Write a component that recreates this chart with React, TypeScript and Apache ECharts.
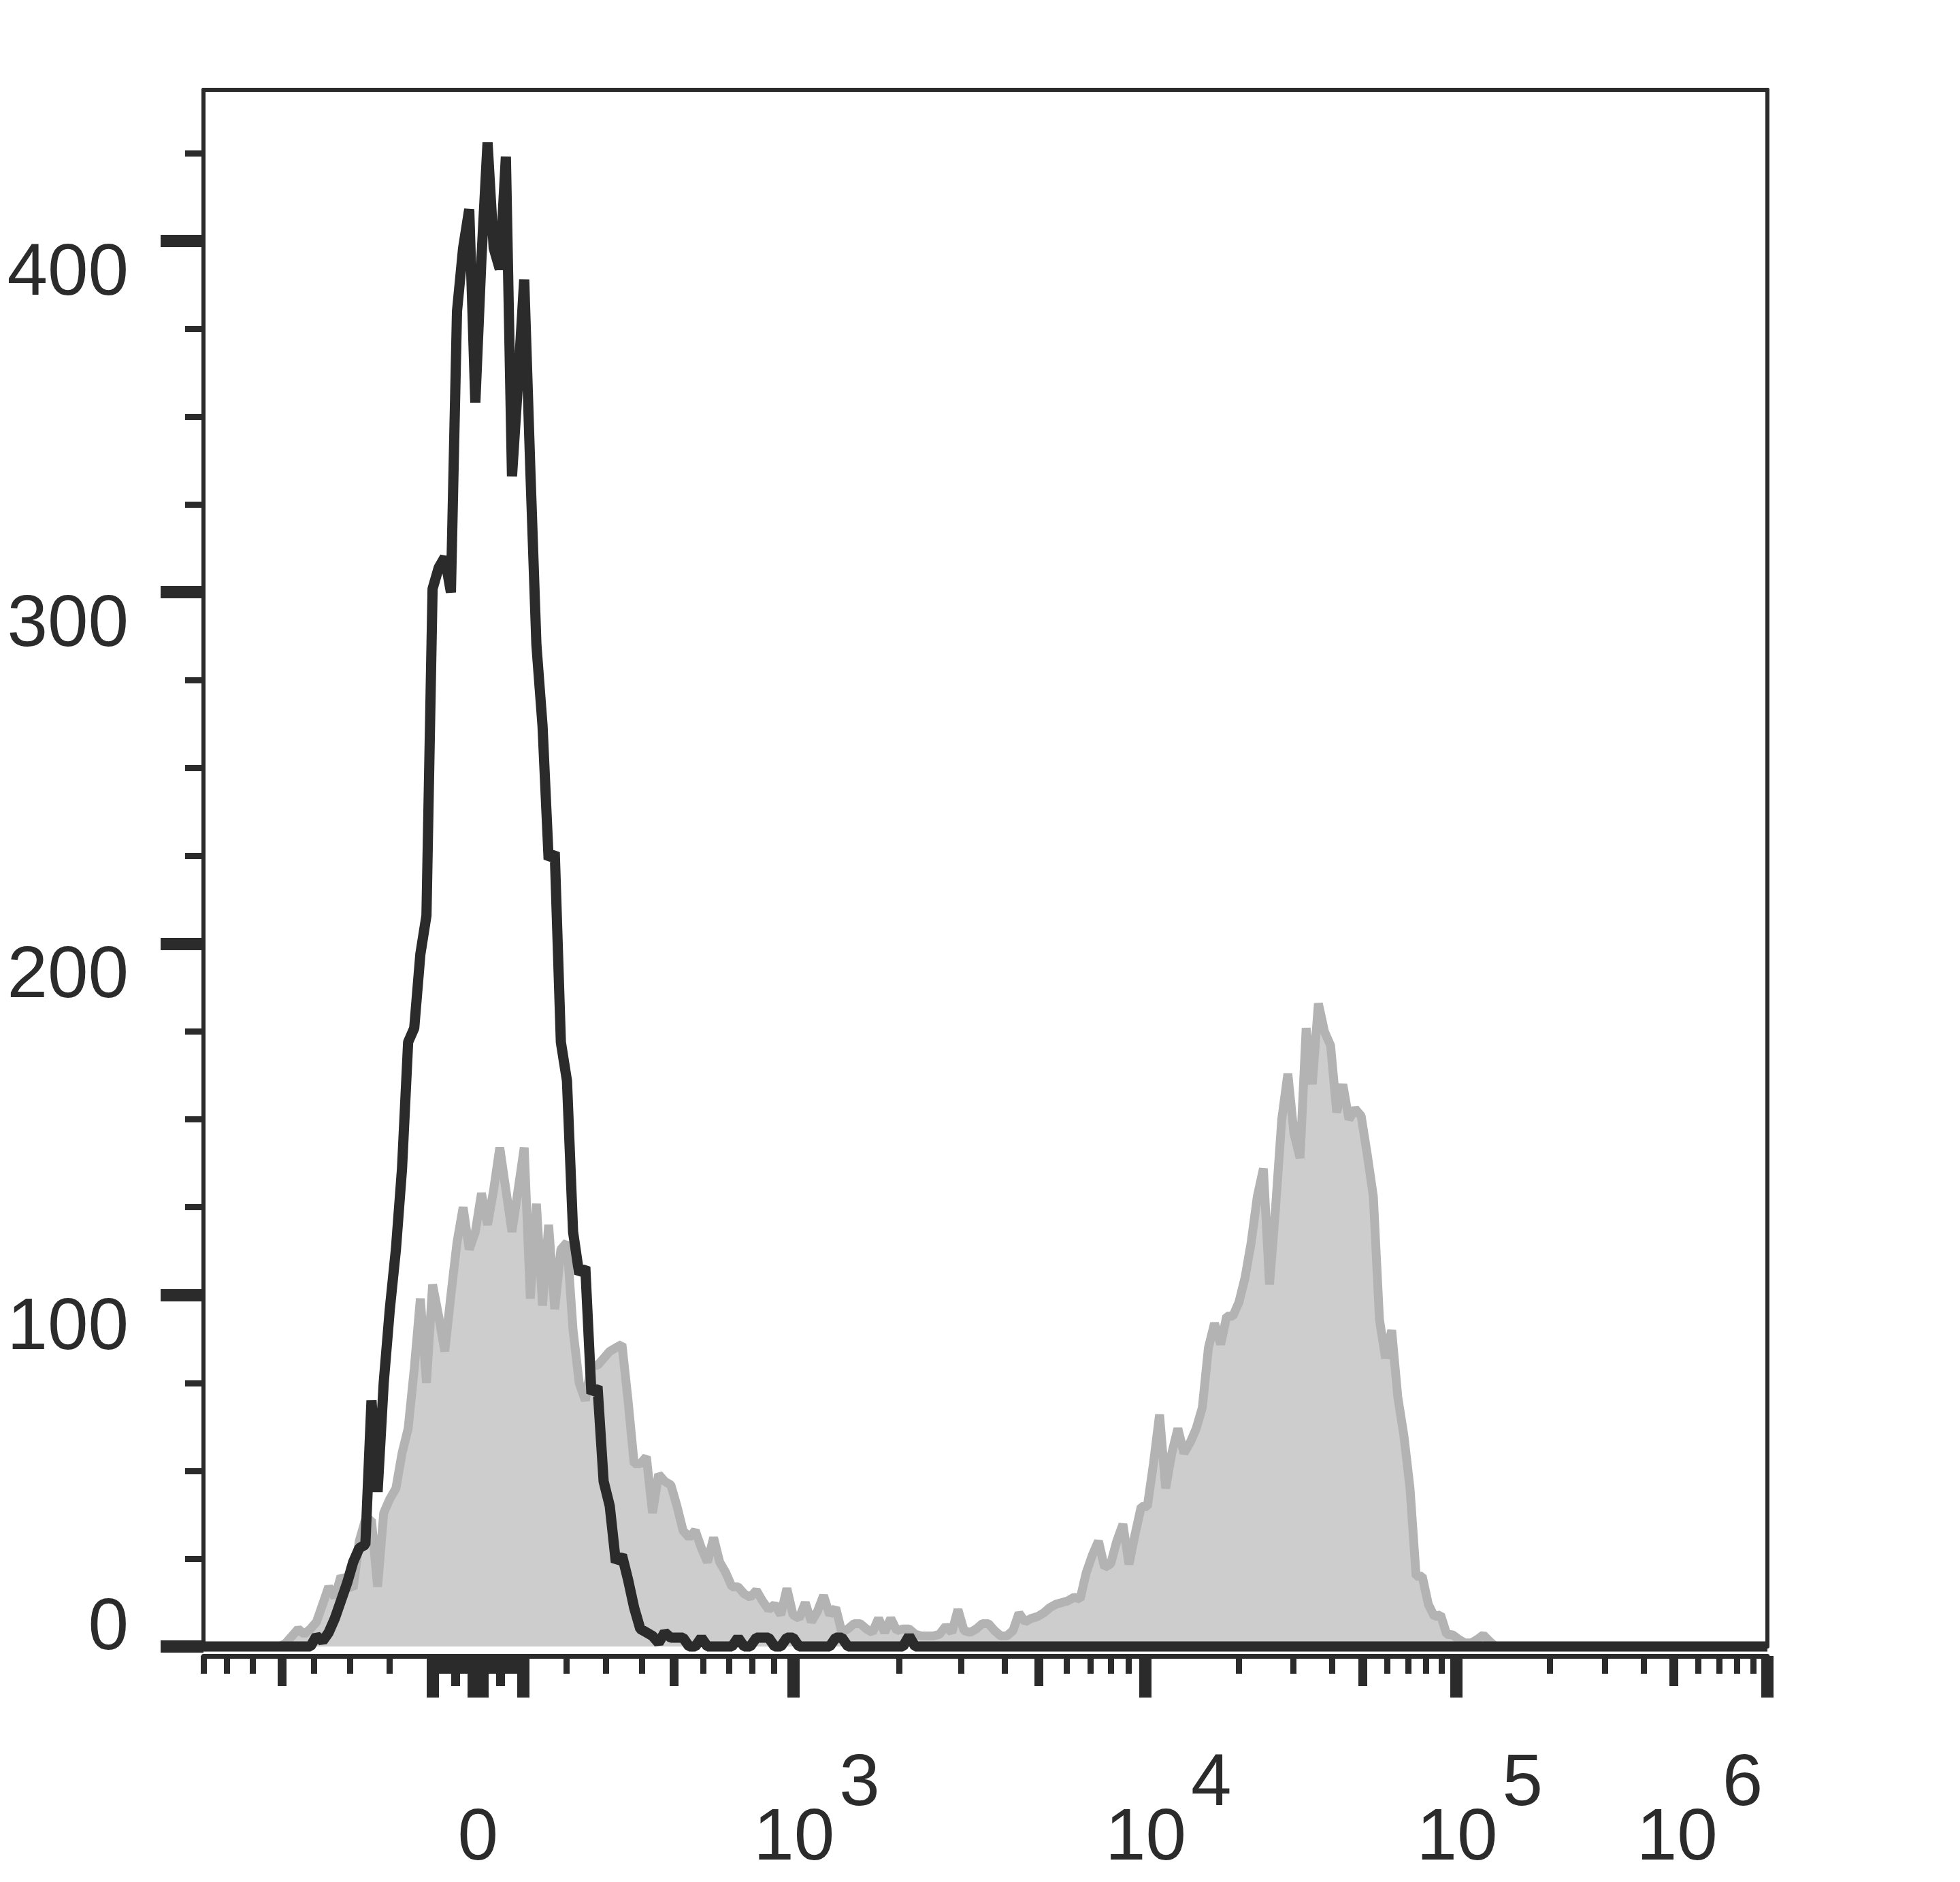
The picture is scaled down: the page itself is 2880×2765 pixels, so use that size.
import React, { useEffect, useRef } from 'react';
import * as echarts from 'echarts';

// ---------- data ----------
const N_BINS = 256;

// isotype control (black line), counts per bin starting at bin BLACK_START
const BLACK_START = 17;
const BLACK_COUNTS = [
  0, 3, 1.5, 4, 8, 13, 18, 24, 28, 29,
  70, 44, 75, 96, 113, 136, 172, 176, 197, 208,
  301, 307, 310, 300, 380, 398, 409, 354, 395, 428,
  398, 392, 424, 333, 360, 389, 335, 285, 262, 224,
  226, 172, 161, 118, 106, 108, 72, 74, 47, 40,
  24, 26, 19, 11, 5, 4, 3, 1, 4, 2.5,
  2.5, 2.5, 0, 0, 2.5, 0, 0, 0, 0, 0,
  2.5, 0, 0, 2.5, 2.5, 2.5, 0, 0, 2.5, 2.5,
  0, 0, 0, 0, 0, 0, 2.5, 2.5, 0, 0,
  0, 0, 0, 0, 0, 0, 0, 0, 3, 0,
];

// stained sample (grey filled), counts per bin starting at bin GRAY_START
const GRAY_START = 12;
const GRAY_COUNTS = [
  0, 1, 3, 5, 3.5, 5, 7, 12, 17, 14,
  20, 18, 16.5, 30, 36, 36, 17, 38, 42, 45,
  55, 62, 79, 99, 75, 103, 94, 84, 100, 115,
  125, 113, 118, 129, 120, 130, 142, 130, 118, 130,
  142, 99, 126, 97, 120, 96, 113, 115, 90, 75,
  70, 80, 80, 82, 84, 85, 86, 70, 52, 52,
  54, 38, 49, 47, 46, 40, 33, 31, 33, 28,
  24, 31, 24, 21, 17, 17, 15, 14, 16, 13,
  10.5, 12, 9, 16.5, 9, 8, 12.5, 7, 10, 14.5,
  9, 11, 4, 5, 6.5, 6.5, 5, 4, 8, 4,
  8, 4.5, 5, 5, 3.5, 3, 3, 3, 3.5, 5.8,
  4, 10.5, 4.5, 4, 5, 6.5, 6.5, 4.5, 3, 3,
  4.5, 9.5, 7, 8, 8.5, 9.5, 11, 12, 12.5, 13,
  14, 13.5, 21, 26, 30, 22.5, 23.5, 30, 34.8, 23.4,
  32, 39.8, 39.8, 52, 66, 45, 55, 62, 55, 58,
  62, 68, 85, 92, 86, 94, 94, 98, 105, 115,
  128, 136, 103, 125, 150, 163, 146, 139, 176, 160,
  183, 175, 171, 152, 160, 150, 153, 151, 140, 128,
  93, 82, 90, 71, 60, 45, 20, 20, 12, 8.5,
  9, 3.5, 3.3, 2, 1, 1, 2, 3.3, 1.5, 0,
];

// axis definitions
const X_RANGE = [-800, 1e6];
const X_LABEL_VALUES = [0, 1e3, 1e4, 1e5, 1e6];
const X_LABEL_EXPONENTS = ['', '3', '4', '5', '6'];
const X_LONG_TICKS = [-100, -10, 0, 10, 100, 1e3, 1e4, 1e5, 1e6];
const X_MEDIUM_TICKS = [-500, -50, 50, 500, 5e3, 5e4, 5e5];
const X_MINOR_MULTIPLIERS = [2, 3, 4, 6, 7, 8, 9];
const Y_MAX = 443;
const Y_MAJOR_TICKS = [0, 100, 200, 300, 400];
const Y_MINOR_TICKS = [25, 50, 75, 125, 150, 175, 225, 250, 275, 325, 350, 375, 425];

// biexponential display scale (channel units 0..N_BINS)
const BIEX = { zeroCh: 44.92, linC: 450, decadeCh: [57.58, 50.95, 50.95] };
const LIN_A = BIEX.zeroCh / Math.asinh(-X_RANGE[0] / BIEX.linC);

function toChannel(v: number): number {
  const a = Math.abs(v);
  if (a <= 1000) return BIEX.zeroCh + Math.sign(v) * LIN_A * Math.asinh(a / BIEX.linC);
  let ch = BIEX.zeroCh + LIN_A * Math.asinh(1000 / BIEX.linC);
  let lg = Math.log10(a) - 3;
  for (const d of BIEX.decadeCh) {
    if (lg <= 0) break;
    ch += Math.min(lg, 1) * d;
    lg -= 1;
  }
  return ch;
}

function buildShortTicks(): number[] {
  const out: number[] = [];
  [10, 100].forEach((dec) =>
    X_MINOR_MULTIPLIERS.forEach((m) => {
      out.push(m * dec);
      if (m * dec <= -X_RANGE[0]) out.push(-m * dec);
    })
  );
  [1e3, 1e4, 1e5].forEach((dec) => X_MINOR_MULTIPLIERS.forEach((m) => out.push(m * dec)));
  return out;
}

const X_MIN_CH = Math.max(0, toChannel(X_RANGE[0]));
const X_MAX_CH = toChannel(X_RANGE[1]);

function histogram(start: number, counts: number[]): number[][] {
  const pts: number[][] = [[X_MIN_CH, 0]];
  for (let i = 0; i < N_BINS; i++) {
    const k = i - start;
    const c = k >= 0 && k < counts.length ? counts[k] : 0;
    pts.push([i + 0.5, c]);
  }
  pts.push([X_MAX_CH, 0]);
  return pts;
}

// ---------- style ----------
const DARK = '#2b2b2b';
const FONT = "'Liberation Sans', Arial, Helvetica, sans-serif";
const FS = 107;
const txt = { fontSize: FS, fontFamily: FONT, color: DARK };

function clampCh(v: number) {
  return Math.min(X_MAX_CH, Math.max(X_MIN_CH, toChannel(v)));
}

function buildOption(): any {
  const labelCh = X_LABEL_VALUES.map(clampCh);
  const xBase = {
    type: 'value',
    gridIndex: 0,
    min: X_MIN_CH,
    max: X_MAX_CH,
    position: 'bottom',
    offset: 14,
    splitLine: { show: false },
    axisLine: { show: false, onZero: false },
    axisLabel: { show: false },
  };
  const yBase = {
    type: 'value',
    gridIndex: 0,
    min: 0,
    max: Y_MAX,
    position: 'left',
    splitLine: { show: false },
    axisLine: { show: false, onZero: false },
    axisLabel: { show: false },
  };
  return {
    animation: false,
    backgroundColor: '#ffffff',
    grid: {
      left: 299,
      right: 2880 - 2597,
      top: 132,
      bottom: 2765 - 2419,
      containLabel: false,
      outerBoundsMode: 'none',
    },
    xAxis: [
      {
        ...xBase,
        axisLine: { show: true, onZero: false, lineStyle: { color: DARK, width: 7 } },
        axisTick: {
          show: true,
          customValues: X_LONG_TICKS.map(clampCh),
          length: 61,
          lineStyle: { color: DARK, width: 18 },
        },
        axisLabel: {
          show: true,
          customValues: labelCh,
          margin: 128,
          showMinLabel: true,
          showMaxLabel: true,
          formatter: (value: number) => {
            let idx = 0;
            let best = Infinity;
            labelCh.forEach((c, i) => {
              const d = Math.abs(c - value);
              if (d < best) {
                best = d;
                idx = i;
              }
            });
            const exp = X_LABEL_EXPONENTS[idx];
            if (!exp) return '{z|0}';
            if (idx === X_LABEL_VALUES.length - 1) return `{bl|10}{el|${exp}}`;
            return `{b|10}{e|${exp}}`;
          },
          rich: {
            z: { ...txt, padding: [80, 0, 0, 0] },
            b: { ...txt, padding: [80, 0, 0, 69] },
            e: { ...txt, padding: [0, 0, 80, 7] },
            bl: { ...txt, padding: [80, 0, 0, 0] },
            el: { ...txt, padding: [0, 199, 80, 7] },
          },
        },
      },
      {
        ...xBase,
        axisTick: {
          show: true,
          customValues: X_MEDIUM_TICKS.map(clampCh),
          length: 44,
          lineStyle: { color: DARK, width: 13 },
        },
      },
      {
        ...xBase,
        axisTick: {
          show: true,
          customValues: buildShortTicks().map(clampCh),
          length: 26,
          lineStyle: { color: DARK, width: 9 },
        },
      },
      {
        ...xBase,
        position: 'top',
        offset: 0,
        axisLine: { show: true, onZero: false, lineStyle: { color: DARK, width: 6 } },
        axisTick: { show: false },
      },
    ],
    yAxis: [
      {
        ...yBase,
        axisLine: { show: true, onZero: false, lineStyle: { color: DARK, width: 6 } },
        axisTick: {
          show: true,
          customValues: Y_MAJOR_TICKS,
          length: 63,
          lineStyle: { color: DARK, width: 18 },
        },
        axisLabel: {
          show: true,
          customValues: Y_MAJOR_TICKS,
          margin: 110,
          formatter: (value: number) => (value === 0 ? '{u|0}' : `{d|${value}}`),
          rich: {
            u: { ...txt, padding: [0, 0, 66, 0] },
            d: { ...txt, padding: [84, 0, 0, 0] },
          },
        },
      },
      {
        ...yBase,
        axisTick: {
          show: true,
          customValues: Y_MINOR_TICKS,
          length: 27,
          lineStyle: { color: DARK, width: 9 },
        },
      },
      {
        ...yBase,
        position: 'right',
        axisLine: { show: true, onZero: false, lineStyle: { color: DARK, width: 6 } },
        axisTick: { show: false },
      },
    ],
    series: [
      {
        name: 'Stained',
        type: 'line',
        xAxisIndex: 0,
        yAxisIndex: 0,
        data: histogram(GRAY_START, GRAY_COUNTS),
        symbol: 'none',
        showSymbol: false,
        clip: false,
        lineStyle: { color: '#b3b3b3', width: 13 },
        areaStyle: { color: '#cdcdcd', opacity: 1 },
        z: 2,
      },
      {
        name: 'Isotype',
        type: 'line',
        xAxisIndex: 0,
        yAxisIndex: 0,
        data: histogram(BLACK_START, BLACK_COUNTS),
        symbol: 'none',
        showSymbol: false,
        clip: false,
        lineStyle: { color: DARK, width: 15 },
        z: 3,
      },
    ],
  };
}

export default function App() {
  const ref = useRef<HTMLDivElement>(null);
  useEffect(() => {
    if (!ref.current) return;
    const chart = echarts.init(ref.current, null, { renderer: 'svg' });
    chart.setOption(buildOption());
    return () => chart.dispose();
  }, []);
  return (
    <div
      ref={ref}
      style={{ position: 'absolute', left: 0, top: 0, width: 2880, height: 2765, background: '#ffffff' }}
    />
  );
}
